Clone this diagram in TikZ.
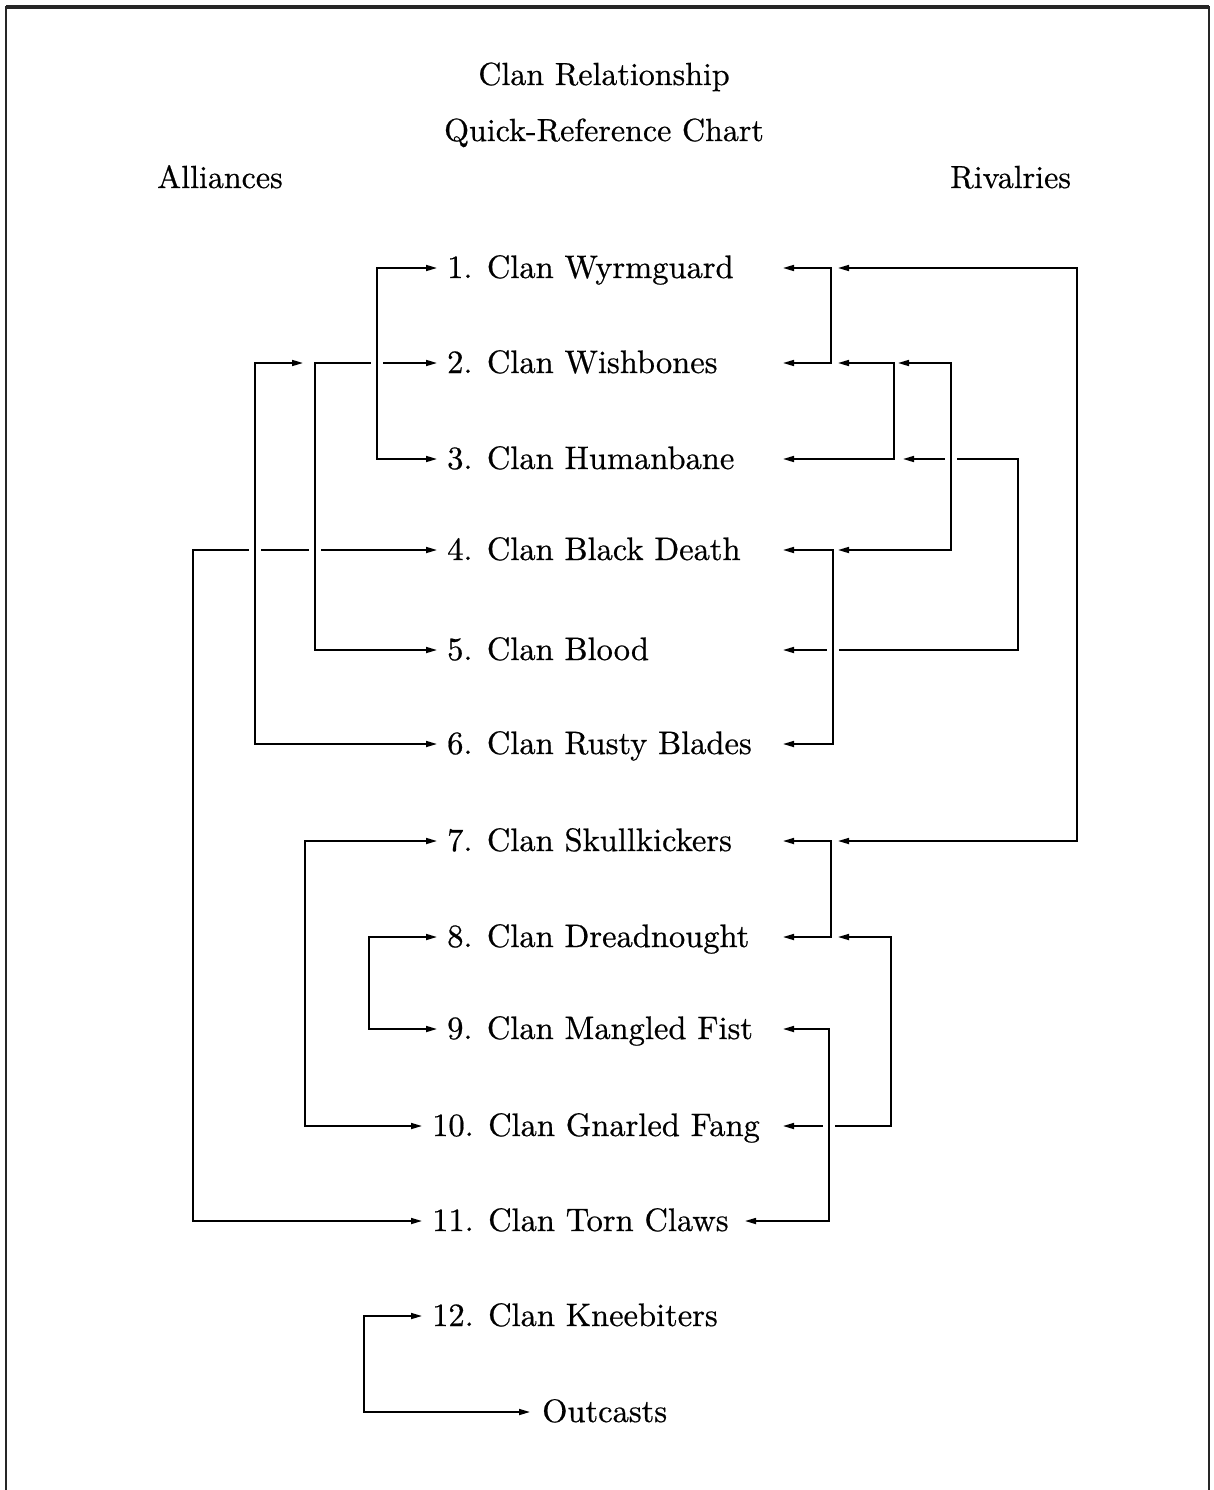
\documentclass[tikz,border=0pt]{standalone}
\usepackage{fontspec}
\setmainfont{lmroman10-regular.otf}[FakeBold=0.6]
\usetikzlibrary{arrows.meta}
\newcommand\hgap[1]{%
  \fill[white] ([xshift=-6pt,yshift=-3.5pt]#1) rectangle ([xshift=6pt,yshift=3.5pt]#1);
  \draw[line width=1.6pt] ([yshift=-5pt]#1) -- ([yshift=5pt]#1);}
\begin{document}
\begin{tikzpicture}[x=1pt,y=-1pt,
  lbl/.style={anchor=base west, inner sep=0pt, font=\fontsize{32.5}{36}\selectfont},
  head/.style={anchor=base, inner sep=0pt, font=\fontsize{32}{36}\selectfont},
  link/.style={line width=1.6pt, {Triangle[length=11pt,width=6pt]}-{Triangle[length=11pt,width=6pt]}},
]
\useasboundingbox (0,0) rectangle (1214,1490);
\draw[line width=2.5pt, black!85] (6,1490) -- (6,7) -- (1209,7) -- (1209,1490);
\draw[line width=4pt, black!85] (6,7) -- (1209,7);

% headings
\node[head] (t1) at (604,85) {Clan Relationship};
\node[head] (t2) at (604,141) {Quick-Reference Chart};
\node[head,anchor=base west] (al) at (157,188) {Alliances};
\node[head,anchor=base west] (rv) at (950,188) {Rivalries};

% clan labels
\node[lbl] (r1)  at (447,278)  {1. Clan Wyrmguard};
\node[lbl] (r2)  at (447,373)  {2. Clan Wishbones};
\node[lbl] (r3)  at (447,469)  {3. Clan Humanbane};
\node[lbl] (r4)  at (447,560)  {4. Clan Black Death};
\node[lbl] (r5)  at (447,660)  {5. Clan Blood};
\node[lbl] (r6)  at (447,754)  {6. Clan Rusty Blades};
\node[lbl] (r7)  at (447,851)  {7. Clan Skullkickers};
\node[lbl] (r8)  at (447,947)  {8. Clan Dreadnought};
\node[lbl] (r9)  at (447,1039) {9. Clan Mangled Fist};
\node[lbl] (r10) at (432,1136) {10. Clan Gnarled Fang};
\node[lbl] (r11) at (432,1231) {11. Clan Torn Claws};
\node[lbl] (r12) at (432,1326) {12. Clan Kneebiters};
\node[lbl] (out) at (542,1422) {Outcasts};

% arrow-tip coordinates
\coordinate (bx) at (783,0);
\foreach \i in {1,...,12} {
  \coordinate (a\i) at ([xshift=-10pt,yshift=10pt]r\i.base west);
  \coordinate (b\i) at (bx |- a\i);
}
\coordinate (aout) at ([xshift=-12pt,yshift=10pt]out.base west);
\coordinate (bx11) at (745,0);
\coordinate (b11) at (bx11 |- a11);

% columns
\foreach \c in {193,255,303,305,315,364,369,377,829,831,833,838,891,894,898,903,951,1018,1077}
  \coordinate (c\c) at (\c,0);

% alliances (left)
\draw[link] (a1) -- (a1 -| c377) |- (a3);
\draw[link] (a2) -- (a2 -| c315) |- (a5);
\draw[link] (a2 -| c303) -- (a2 -| c255) |- (a6);
\draw[link] (a4) -- (a4 -| c193) |- (a11);
\draw[link] (a7) -- (a7 -| c305) |- (a10);
\draw[link] (a8) -- (a8 -| c369) |- (a9);
\draw[link] (a12) -- (a12 -| c364) |- (aout);

% rivalries (right)
\draw[link] (b1) -- (b1 -| c831) |- (b2);
\draw[link] (b1 -| c838) -- (b1 -| c1077) |- (b7 -| c838);
\draw[link] (b2 -| c838) -- (b2 -| c894) |- (b3);
\draw[link] (b2 -| c898) -- (b2 -| c951) |- (b4 -| c838);
\draw[link] (b3 -| c903) -- (b3 -| c1018) |- (b5);
\draw[link] (b4) -- (b4 -| c833) |- (b6);
\draw[link] (b7) -- (b7 -| c831) |- (b8);
\draw[link] (b8 -| c838) -- (b8 -| c891) |- (b10);
\draw[link] (b9) -- (b9 -| c829) |- (b11);

% line crossings (horizontal broken)
\coordinate (g1) at (c377 |- a2);
\coordinate (g2) at (c255 |- a4);
\coordinate (g3) at (c315 |- a4);
\coordinate (g4) at (c951 |- b3);
\coordinate (g5) at (c833 |- b5);
\coordinate (g6) at (c829 |- b10);
\foreach \g in {g1,g2,g3,g4,g5,g6} \hgap{\g};
\end{tikzpicture}
\end{document}
